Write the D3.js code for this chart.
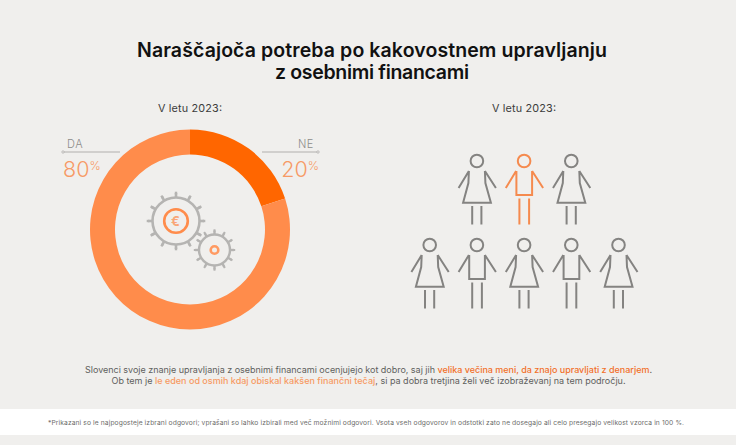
<!DOCTYPE html>
<html><head><meta charset="utf-8">
<script src="https://cdn.jsdelivr.net/npm/d3@7"></script>
<style>html,body{margin:0;padding:0;background:#f0efed}svg{display:block}text{font-family:Inter,sans-serif}</style>
</head><body><svg id="c" width="736" height="445"></svg>
<script>
const titleLines=["Naraščajoča potreba po kakovostnem upravljanju","z osebnimi financami"];
const subtitle="V letu 2023:";
const categories=["NE","DA"];
const values=[20,80];
const sliceColors=["#ff6600","#ff8c4b"];
const personRows=[["f","m","f"],["f","m","f","m","f"]];
const highlighted=[[0,1]];
const sentence1=[["Slovenci svoje znanje upravljanja z osebnimi financami ocenjujejo kot dobro, saj jih ",0],["velika večina meni, da znajo upravljati z denarjem",1],[".",0]];
const sentence2=[["Ob tem je ",0],["le eden od osmih kdaj obiskal kakšen finančni tečaj",2],[", si pa dobra tretjina želi več izobraževanj na tem področju.",0]];
const footnote="*Prikazani so le najpogosteje izbrani odgovori; vprašani so lahko izbirali med več možnimi odgovori. Vsota vseh odgovorov in odstotki zato ne dosegajo ali celo presegajo velikost vzorca in 100 %.";

const svg=d3.select("#c");
svg.append("rect").attr("width",736).attr("height",445).attr("fill","#f0efed");
svg.append("rect").attr("y",409).attr("width",736).attr("height",26).attr("fill","#fff");

const fit=(sel,w)=>sel.attr("textLength",w).attr("lengthAdjust","spacing");
svg.selectAll(".t").data(titleLines).join("text").attr("x",372).attr("y",(d,i)=>56.5+i*22)
 .attr("text-anchor","middle").attr("font-size",19.5).attr("font-weight",600).attr("fill","#111").text(d=>d)
 .each(function(d,i){fit(d3.select(this),[470,194][i])});

[190,524].forEach(x=>svg.append("text").attr("x",x).attr("y",111.5).attr("text-anchor","middle")
 .attr("font-size",10.8).attr("fill","#3c3c3c").text(subtitle)
 .call(fit,64));

// donut
const cx=190,cy=229.5;
const pie=d3.pie().sort(null);
const arc=d3.arc().innerRadius(75).outerRadius(100);
const g=svg.append("g").attr("transform",`translate(${cx},${cy})`);
g.selectAll("path").data(pie(values)).join("path").attr("d",arc).attr("fill",(d,i)=>sliceColors[i]);

// callouts
const callouts=[{i:1,x1:63,x2:120,dot:63,lab:67,anchor:"start"},{i:0,x1:262,x2:318,dot:318,lab:314,anchor:"end"}];
callouts.forEach(c=>{
 svg.append("line").attr("x1",c.x1).attr("x2",c.x2).attr("y1",152).attr("y2",152).attr("stroke","#a9a8a6").attr("stroke-width",.9);
 svg.append("circle").attr("cx",c.dot).attr("cy",152).attr("r",1.2).attr("fill","#f0efed").attr("stroke","#a9a8a6").attr("stroke-width",.7);
 svg.append("text").attr("x",c.lab).attr("y",148).attr("text-anchor",c.anchor).attr("font-size",11).attr("letter-spacing",.6)
  .attr("fill","#8d8c8a").attr("font-weight",300).text(categories[c.i]);
 const big=svg.append("text").attr("y",177).attr("fill","#f79a66").attr("font-weight",300);
 if(c.anchor==="start") big.attr("x",63); else big.attr("x",319).attr("text-anchor","end");
 big.append("tspan").attr("font-size",21.5).text(values[c.i]);
 big.append("tspan").attr("font-size",12).attr("dy",-7).text("%");
});

// gears
function gear(x,y,r,tooth,cap,sw){
 const s=svg.append("g").attr("transform",`translate(${x},${y})`).attr("fill","none").attr("stroke","#b5b4b2").attr("stroke-width",sw);
 s.append("circle").attr("r",r);
 d3.range(12).forEach(k=>{
  const a=k*Math.PI/6,c=Math.cos(a),n=Math.sin(a);
  s.append("line").attr("x1",r*c).attr("y1",r*n).attr("x2",tooth*c).attr("y2",tooth*n);
  s.append("line").attr("x1",tooth*c-cap*n).attr("y1",tooth*n+cap*c).attr("x2",tooth*c+cap*n).attr("y2",tooth*n-cap*c);
 });
}
gear(176,221,23.5,28,1.2,2.6);
gear(214.5,250,15.5,19.5,1,2.4);
svg.append("circle").attr("cx",176).attr("cy",221).attr("r",11.8).attr("fill","none").attr("stroke","#ff8c4b").attr("stroke-width",2.6);
svg.append("text").attr("x",175.5).attr("y",225.5).attr("text-anchor","middle").attr("font-size",13).attr("font-weight",700).attr("fill","#f9a678").text("€");
svg.append("circle").attr("cx",214.5).attr("cy",250).attr("r",3.8).attr("fill","none").attr("stroke","#ff9a62").attr("stroke-width",2.6);

// people
const colX=d3.scalePoint().domain(d3.range(5)).range([429.7,618.5]);
const rowY=d3.scalePoint().domain([0,1]).range([161,245]);
function person(p,type){
 const q=d3.path();
 q.moveTo(-8,10);q.lineTo(-18.3,27);
 q.moveTo(8,10);q.lineTo(19,27);
 if(type==="f"){
  q.moveTo(-8,10);q.lineTo(-8.5,22);q.lineTo(-13.8,41.8);q.lineTo(14,41.8);q.lineTo(8.5,22);q.lineTo(8,10);
  q.moveTo(-4.7,45);q.lineTo(-4.7,63.5);q.moveTo(4.5,45);q.lineTo(4.5,63.5);
 } else {
  q.moveTo(-7.7,10);q.lineTo(-7.7,34);q.lineTo(8,34);q.lineTo(8,10);
  q.moveTo(-4.7,37.5);q.lineTo(-4.7,63.5);q.moveTo(5,37.5);q.lineTo(5,63.5);
 }
 p.append("path").attr("d",q.toString());
 p.append("circle").attr("r",6.3);
}
personRows.forEach((row,r)=>{
 const off=(5-row.length)/2;
 row.forEach((t,i)=>{
  const hi=highlighted.some(h=>h[0]===r&&h[1]===i);
  const p=svg.append("g").attr("transform",`translate(${colX(i+off)},${rowY(r)})`)
   .attr("fill","none").attr("stroke",hi?"#f58a4e":"#848381").attr("stroke-width",2);
  person(p,t);
 });
});

// sentences
const cols=["#5f5f5d","#f2702a","#f79a63"];
function sentence(parts,y,w){
 const t=svg.append("text").attr("x",368.5).attr("y",y).attr("text-anchor","middle").attr("font-size",9);
 fit(t,w);
 parts.forEach(p=>t.append("tspan").attr("fill",cols[p[1]]).attr("font-weight",p[1]?500:400).text(p[0]));
}
sentence(sentence1,372.5,567);
sentence(sentence2,384,514);
const f=svg.append("text").attr("x",366).attr("y",425).attr("text-anchor","middle").attr("font-size",6.7).attr("fill","#6d6d6b").text(footnote);
fit(f,636);
</script></body></html>
